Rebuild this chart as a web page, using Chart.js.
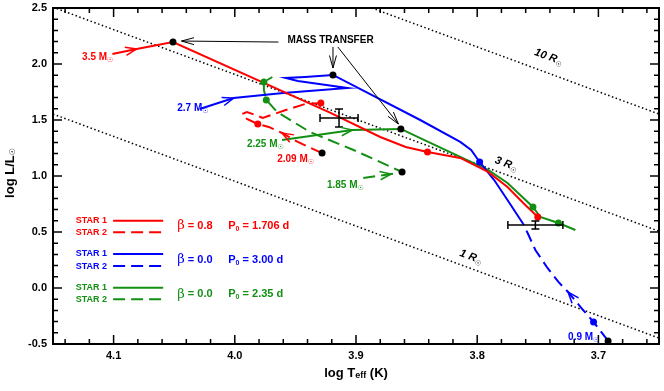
<!DOCTYPE html>
<html>
<head>
<meta charset="utf-8">
<script src="https://cdn.jsdelivr.net/npm/chart.js@4.4.0/dist/chart.umd.min.js"></script>
<style>
    html, body { margin: 0; padding: 0; background: #fff; }
</style>
</head>
<body>
<canvas id="hrd" width="664" height="391"></canvas>
<script>
// Evolutionary tracks, log Teff (K) vs log L/Lsun
const redStar1T = [4.101, 4.081, 4.051, 3.921, 3.880, 3.859, 3.841, 3.814, 3.791, 3.775, 3.762, 3.750];
const redStar1L = [2.089, 2.134, 2.196, 1.563, 1.348, 1.259, 1.214, 1.161, 1.036, 0.902, 0.759, 0.634];
const redStar2T = [3.928, 3.948, 3.961, 3.972, 3.981, 3.990, 3.994, 3.990, 3.983, 3.977, 3.958, 3.942, 3.929];
const redStar2L = [1.205, 1.304, 1.384, 1.438, 1.464, 1.509, 1.554, 1.571, 1.545, 1.518, 1.589, 1.643, 1.652];

const blueStar1T = [4.029, 4.001, 3.960, 3.907, 3.948, 3.958, 3.942, 3.919, 3.847, 3.814, 3.805, 3.798, 3.786, 3.775, 3.762];
const blueStar1L = [1.598, 1.696, 1.741, 1.786, 1.848, 1.875, 1.884, 1.902, 1.500, 1.304, 1.232, 1.125, 0.964, 0.786, 0.571];
const blueStar2T = [3.692, 3.704, 3.714, 3.725, 3.733, 3.742, 3.752, 3.758, 3.762];
const blueStar2L = [-0.473, -0.304, -0.179, -0.036, 0.054, 0.179, 0.339, 0.482, 0.571];

const greenStar1T = [3.961, 3.903, 3.863, 3.847, 3.814, 3.791, 3.775, 3.754, 3.748, 3.733, 3.719];
const greenStar1L = [1.321, 1.411, 1.420, 1.339, 1.170, 1.054, 0.938, 0.723, 0.634, 0.580, 0.518];
const greenStar2T = [3.894, 3.871, 3.862, 3.902, 3.938, 3.965, 3.974, 3.976, 3.976, 3.969];
const greenStar2L = [0.982, 1.018, 1.036, 1.232, 1.393, 1.571, 1.679, 1.768, 1.839, 1.884];

// marked stages
const blackDotT = [4.051, 3.919, 3.863, 3.928, 3.862, 3.692];
const blackDotL = [2.196, 1.902, 1.420, 1.205, 1.036, -0.473];
const redDotT = [3.841, 3.750, 3.981, 3.929];
const redDotL = [1.214, 0.634, 1.464, 1.652];
const blueDotT = [3.798, 3.704];
const blueDotL = [1.125, -0.304];
const greenDotT = [3.754, 3.733, 3.974, 3.976];
const greenDotL = [0.723, 0.580, 1.679, 1.839];

// constant radius lines (1, 3, 10 Rsun)
const radiusNames = ['1', '3', '10'];
const radiusT = [[4.15, 3.65], [4.15, 3.65], [3.887, 3.65]];
const radiusL = [[1.553, -0.447], [2.507, 0.507], [2.5, 1.553]];

// observed components with errors
const obsT = [3.914, 3.752];
const obsL = [1.518, 0.5625];
const obsErrT = [0.0157, 0.0227];
const obsErrL = [0.08, 0.036];

// initial masses and legend values
const massNames = ['3.5', '2.7', '2.25', '2.09', '1.85', '0.9'];
const betaValues = ['0.8', '0.0', '0.0'];
const periodValues = ['1.706', '3.00', '2.35'];

const xMajorTicks = [4.1, 4.0, 3.9, 3.8, 3.7];
const yMajorTicks = [-0.5, 0.0, 0.5, 1.0, 1.5, 2.0, 2.5];

const RED = '#ff0000', BLUE = '#0000ff', GREEN = '#138f13';
const FONT = '"Liberation Sans", Arial, Helvetica, sans-serif';
const SUN = '"DejaVu Sans", sans-serif';
const TRACK_DASH = [12, 6];

const pts = (T, L) => T.map((t, i) => ({ x: t, y: L[i] }));

// where the annotations sit, in data units
const massLabelPos = [[4.126, 2.0625], [4.0475, 1.607], [3.990, 1.286], [3.965, 1.152], [3.924, 0.920], [3.725, -0.4375]];
const massLabelColor = [RED, BLUE, GREEN, RED, GREEN, BLUE];
const radiusLabelPos = [[3.805, 0.277], [3.776, 1.107], [3.741, 2.0625]];
const legendColor = [RED, BLUE, GREEN];
const legendY1 = [0.601, 0.304, 0.003];
const legendY2 = [0.497, 0.196, -0.101];
const legendYText = [0.554, 0.25, -0.056];
const massTransferArrows = [
    [[3.964, 2.196], [4.044, 2.205]],
    [[3.919, 2.152], [3.919, 1.964]],
    [[3.915, 2.152], [3.865, 1.464]]
];

function drawParts(ctx, parts, x, y, align) {
    let w = 0;
    parts.forEach(p => { ctx.font = p[1]; w += ctx.measureText(p[0]).width; });
    let cx = align === 'right' ? x - w : align === 'center' ? x - w / 2 : x;
    ctx.textAlign = 'left';
    ctx.textBaseline = 'middle';
    parts.forEach(p => {
        ctx.font = p[1];
        ctx.fillText(p[0], cx, y + (p[2] || 0));
        cx += ctx.measureText(p[0]).width;
    });
}

function chevron(ctx, x, y, ang, len, spread) {
    ctx.beginPath();
    ctx.moveTo(x - len * Math.cos(ang - spread), y - len * Math.sin(ang - spread));
    ctx.lineTo(x, y);
    ctx.lineTo(x - len * Math.cos(ang + spread), y - len * Math.sin(ang + spread));
    ctx.stroke();
}

const decorations = {
    id: 'decorations',
    afterDraw(chart) {
        const { ctx, chartArea: a, scales: { x, y } } = chart;
        const X = v => x.getPixelForValue(v);
        const Y = v => y.getPixelForValue(v);
        ctx.save();
        ctx.setLineDash([]);

        // error bars
        ctx.strokeStyle = '#000';
        ctx.lineWidth = 1.5;
        obsT.forEach((t, i) => {
            const cx = X(t), cy = Y(obsL[i]);
            const x0 = X(t + obsErrT[i]), x1 = X(t - obsErrT[i]);
            const y0 = Y(obsL[i] + obsErrL[i]), y1 = Y(obsL[i] - obsErrL[i]);
            ctx.beginPath();
            ctx.moveTo(x0, cy); ctx.lineTo(x1, cy);
            ctx.moveTo(x0, cy - 4); ctx.lineTo(x0, cy + 4);
            ctx.moveTo(x1, cy - 4); ctx.lineTo(x1, cy + 4);
            ctx.moveTo(cx, y0); ctx.lineTo(cx, y1);
            ctx.moveTo(cx - 4, y0); ctx.lineTo(cx + 4, y0);
            ctx.moveTo(cx - 4, y1); ctx.lineTo(cx + 4, y1);
            ctx.stroke();
        });

        // direction arrows on the tracks
        chart.data.datasets.forEach((ds, di) => {
            if (ds.arrowAt === undefined) return;
            const el = chart.getDatasetMeta(di).data;
            const p = el[ds.arrowAt], q = el[ds.arrowAt - 1];
            ctx.strokeStyle = ds.borderColor;
            ctx.lineWidth = 1.5;
            chevron(ctx, p.x, p.y, Math.atan2(p.y - q.y, p.x - q.x), 12, 0.36);
        });

        // MASS TRANSFER pointers
        ctx.strokeStyle = '#000';
        ctx.lineWidth = 1;
        massTransferArrows.forEach(([from, to]) => {
            const fx = X(from[0]), fy = Y(from[1]), tx = X(to[0]), ty = Y(to[1]);
            ctx.beginPath(); ctx.moveTo(fx, fy); ctx.lineTo(tx, ty); ctx.stroke();
            chevron(ctx, tx, ty, Math.atan2(ty - fy, tx - fx), 13, 0.27);
        });
        ctx.fillStyle = '#000';
        drawParts(ctx, [['MASS TRANSFER', 'bold 10px ' + FONT]], X(3.921), Y(2.214), 'center');

        // initial mass labels
        massNames.forEach((m, i) => {
            ctx.fillStyle = massLabelColor[i];
            drawParts(ctx, [[m + ' M', 'bold 10px ' + FONT], ['\u2609', '7px ' + SUN, 3]],
                X(massLabelPos[i][0]), Y(massLabelPos[i][1]), 'left');
        });

        // radius labels, tilted along the lines
        ctx.fillStyle = '#000';
        radiusNames.forEach((r, i) => {
            ctx.save();
            ctx.translate(X(radiusLabelPos[i][0]), Y(radiusLabelPos[i][1]));
            ctx.rotate(20 * Math.PI / 180);
            drawParts(ctx, [[r + ' R', 'italic bold 11px ' + FONT], ['\u2609', '7px ' + SUN, 4]], 0, 0, 'center');
            ctx.restore();
        });

        // legend
        legendColor.forEach((c, i) => {
            ctx.fillStyle = c;
            ctx.strokeStyle = c;
            ctx.lineWidth = 2;
            drawParts(ctx, [['STAR 1', 'bold 9px ' + FONT]], X(4.1054), Y(legendY1[i]), 'right');
            drawParts(ctx, [['STAR 2', 'bold 9px ' + FONT]], X(4.1054), Y(legendY2[i]), 'right');
            ctx.setLineDash([]);
            ctx.beginPath(); ctx.moveTo(X(4.1004), Y(legendY1[i])); ctx.lineTo(X(4.0591), Y(legendY1[i])); ctx.stroke();
            ctx.setLineDash(TRACK_DASH);
            ctx.beginPath(); ctx.moveTo(X(4.1004), Y(legendY2[i])); ctx.lineTo(X(4.0591), Y(legendY2[i])); ctx.stroke();
            ctx.setLineDash([]);
            drawParts(ctx, [['\u03b2', '13px "DejaVu Serif", serif'], [' = ' + betaValues[i], 'bold 11px ' + FONT]],
                X(4.0475), Y(legendYText[i]), 'left');
            drawParts(ctx, [['P', 'bold 11px ' + FONT], ['0', 'bold 7px ' + FONT, 3], [' = ' + periodValues[i] + ' d', 'bold 11px ' + FONT]],
                X(4.0054), Y(legendYText[i]), 'left');
        });

        // frame and inward ticks on all four sides
        ctx.strokeStyle = '#000';
        ctx.lineWidth = 2;
        ctx.strokeRect(a.left, a.top, a.right - a.left, a.bottom - a.top);
        ctx.lineWidth = 1.5;
        ctx.beginPath();
        for (let k = 183; k <= 207; k++) {
            const px = X(k / 50), len = k % 5 === 0 ? 9 : 5;
            ctx.moveTo(px, a.bottom); ctx.lineTo(px, a.bottom - len);
            ctx.moveTo(px, a.top); ctx.lineTo(px, a.top + len);
        }
        for (let k = -4; k <= 24; k++) {
            const py = Y(k / 10), len = k % 5 === 0 ? 9 : 5;
            ctx.moveTo(a.left, py); ctx.lineTo(a.left + len, py);
            ctx.moveTo(a.right, py); ctx.lineTo(a.right - len, py);
        }
        ctx.stroke();

        // axis titles
        ctx.fillStyle = '#000';
        drawParts(ctx, [['log T', 'bold 13px ' + FONT], ['eff', 'bold 9px ' + FONT, 3], [' (K)', 'bold 13px ' + FONT]],
            (a.left + a.right) / 2, a.bottom + 29, 'center');
        ctx.save();
        ctx.translate(10, (a.top + a.bottom) / 2 - 3);
        ctx.rotate(-Math.PI / 2);
        drawParts(ctx, [['log L/L', 'bold 13px ' + FONT], ['\u2609', '8px ' + SUN, 3]], 0, 0, 'center');
        ctx.restore();
        ctx.restore();
    }
};

const track = (T, L, color, dashed, arrowAt) => ({
    data: pts(T, L),
    showLine: true,
    borderColor: color,
    borderWidth: 2,
    borderDash: dashed ? TRACK_DASH : [],
    pointRadius: 0,
    tension: 0,
    order: 1,
    arrowAt
});

const dots = (T, L, color) => ({
    data: pts(T, L),
    showLine: false,
    pointRadius: 3.5,
    pointBackgroundColor: color,
    pointBorderWidth: 0,
    clip: false,
    order: 0
});

const radiusSets = radiusNames.map((r, i) => ({
    data: pts(radiusT[i], radiusL[i]),
    showLine: true,
    borderColor: '#000',
    borderWidth: 1.5,
    borderDash: [1.5, 2.5],
    pointRadius: 0,
    order: 2
}));

new Chart(document.getElementById('hrd'), {
    type: 'scatter',
    data: {
        datasets: [
            ...radiusSets,
            track(redStar1T, redStar1L, RED, false, 1),
            track(redStar2T, redStar2L, RED, true, 2),
            track(blueStar1T, blueStar1L, BLUE, false, 1),
            track(blueStar2T, blueStar2L, BLUE, true, 3),
            track(greenStar1T, greenStar1L, GREEN, false, 1),
            track(greenStar2T, greenStar2L, GREEN, true, 1),
            dots(redDotT, redDotL, RED),
            dots(blueDotT, blueDotL, BLUE),
            dots(greenDotT, greenDotL, GREEN),
            dots(blackDotT, blackDotL, '#000')
        ]
    },
    options: {
        responsive: false,
        animation: false,
        devicePixelRatio: 1,
        layout: { padding: { left: 0, right: 5, top: 8, bottom: 0 } },
        plugins: { legend: { display: false }, tooltip: { enabled: false } },
        scales: {
            x: {
                type: 'linear',
                reverse: true,
                min: 3.65,
                max: 4.15,
                grid: { display: false, drawTicks: false },
                border: { display: false },
                afterBuildTicks: axis => { axis.ticks = xMajorTicks.map(v => ({ value: v })); },
                afterFit: axis => {
                    axis.height = 47;
                    axis.paddingLeft = 0;
                    axis.paddingRight = 0;
                },
                ticks: {
                    autoSkip: false,
                    maxRotation: 0,
                    padding: 5,
                    color: '#000',
                    font: { family: FONT, size: 11, weight: 'bold' },
                    callback: v => v.toFixed(1)
                }
            },
            y: {
                type: 'linear',
                min: -0.5,
                max: 2.5,
                grid: { display: false, drawTicks: false },
                border: { display: false },
                afterBuildTicks: axis => { axis.ticks = yMajorTicks.map(v => ({ value: v })); },
                afterFit: axis => {
                    axis.width = 53;
                    axis.paddingTop = 0;
                    axis.paddingBottom = 0;
                },
                ticks: {
                    autoSkip: false,
                    padding: 6,
                    color: '#000',
                    font: { family: FONT, size: 11, weight: 'bold' },
                    callback: v => v.toFixed(1)
                }
            }
        }
    },
    plugins: [decorations]
});
</script>
</body>
</html>
